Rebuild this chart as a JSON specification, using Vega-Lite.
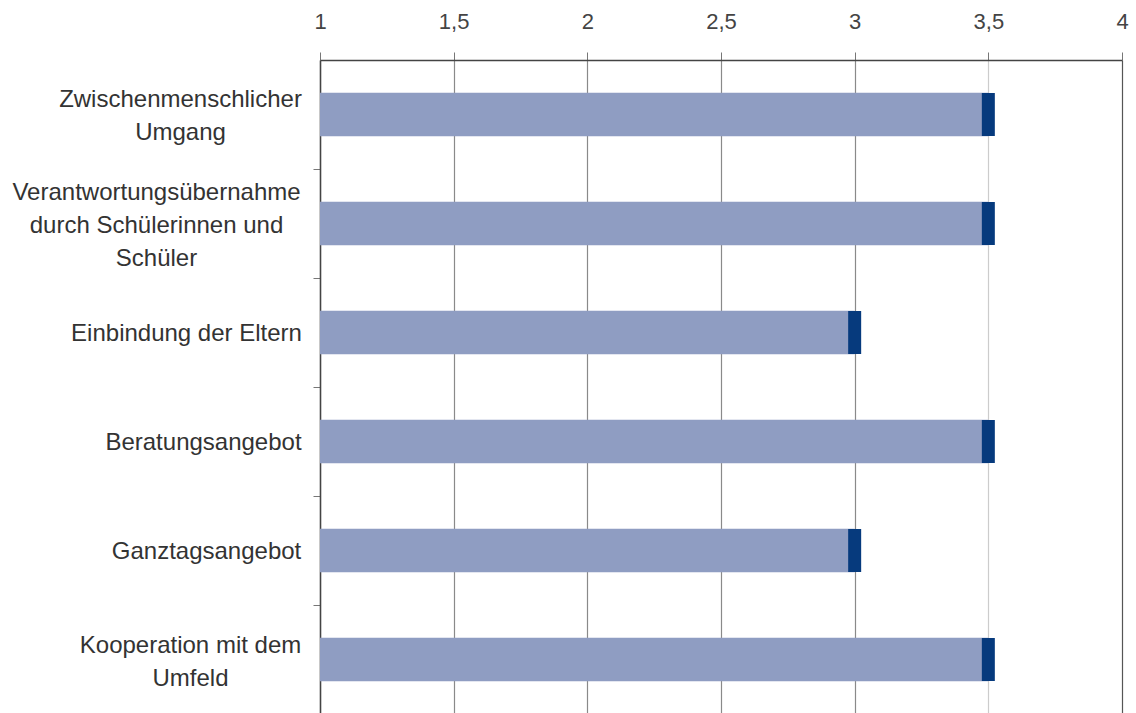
{
  "$schema": "https://vega.github.io/schema/vega-lite/v6.json",
  "autosize": "none",
  "padding": {"left": 320, "top": 60, "right": 14, "bottom": 0},
  "width": 802,
  "height": 654,
  "background": "white",
  "config": {
    "view": {"stroke": null},
    "font": "Liberation Sans"
  },
  "data": {
    "values": [
      {"bereich": "Zwischenmenschlicher\nUmgang", "mittelwert": 3.5},
      {"bereich": "Verantwortungsübernahme\ndurch Schülerinnen und\nSchüler", "mittelwert": 3.5},
      {"bereich": "Einbindung der Eltern", "mittelwert": 3.0},
      {"bereich": "Beratungsangebot", "mittelwert": 3.5},
      {"bereich": "Ganztagsangebot", "mittelwert": 3.0},
      {"bereich": "Kooperation mit dem\nUmfeld", "mittelwert": 3.5}
    ]
  },
  "layer": [
    {
      "mark": {"type": "bar", "color": "#8f9dc2"},
      "encoding": {
        "y": {
          "field": "bereich",
          "type": "nominal",
          "sort": null,
          "scale": {"paddingInner": 0.6, "paddingOuter": 0.3},
          "axis": {
            "title": null,
            "labelExpr": "split(datum.label, '\\n')",
            "labelFont": "Liberation Sans",
            "labelFontSize": 24,
            "labelLineHeight": 33,
            "labelColor": "#333333",
            "labelAlign": "center",
            "labelBaseline": "middle",
            "labelLimit": 0,
            "labelPadding": {
              "condition": [
                {"test": "datum && indexof(datum.value, 'Zwischen') === 0", "value": 133},
                {"test": "datum && indexof(datum.value, 'Verantwortung') === 0", "value": 157},
                {"test": "datum && indexof(datum.value, 'Einbindung') === 0", "value": 127},
                {"test": "datum && indexof(datum.value, 'Beratung') === 0", "value": 110},
                {"test": "datum && indexof(datum.value, 'Ganztag') === 0", "value": 107}
              ],
              "value": 123
            },
            "labelOffset": {
              "condition": [
                {"test": "datum && indexof(datum.value, 'Zwischen') === 0", "value": -70},
                {"test": "datum && indexof(datum.value, 'Verantwortung') === 0", "value": -86},
                {"test": "datum && indexof(datum.value, 'Kooperation') === 0", "value": -69}
              ],
              "value": -54
            },
            "tickOffset": 54.5,
            "tickSize": 7,
            "tickColor": "#777777",
            "domainColor": "#444444",
            "domainWidth": 1.5,
            "grid": false
          }
        },
        "x": {
          "field": "mittelwert",
          "type": "quantitative",
          "scale": {"domain": [1, 4], "zero": false, "nice": false},
          "axis": {
            "orient": "top",
            "title": null,
            "values": [1, 1.5, 2, 2.5, 3, 3.5, 4],
            "labelExpr": "replace(format(datum.value, '~g'), '.', ',')",
            "labelFont": "Liberation Sans",
            "labelFontSize": 22,
            "labelColor": "#444444",
            "labelPadding": 19,
            "labelFlush": false,
            "tickSize": 8,
            "tickColor": "#777777",
            "domainColor": "#444444",
            "domainWidth": 1.5,
            "grid": true,
            "gridColor": {
              "condition": [
                {"test": "datum && datum.value === 3.5", "value": "#cccccc"},
                {"test": "datum && datum.value === 4", "value": "#555555"}
              ],
              "value": "#8a8a8a"
            },
            "gridWidth": 1.2
          }
        },
        "x2": {"datum": 1}
      }
    },
    {
      "mark": {"type": "tick", "color": "#063a7d", "thickness": 13, "size": 43, "opacity": 1},
      "encoding": {
        "y": {"field": "bereich", "type": "nominal", "sort": null},
        "x": {"field": "mittelwert", "type": "quantitative"}
      }
    }
  ]
}
